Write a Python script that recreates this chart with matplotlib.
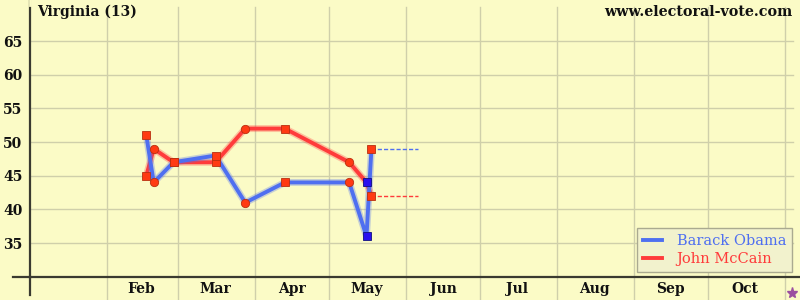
import matplotlib
matplotlib.use("Agg")
import matplotlib.pyplot as plt
from matplotlib.lines import Line2D

# poll dates as day of year 2008 (0 = Jan 1)
poll_days = [47, 50, 58, 75, 87, 103, 129, 136, 138]
obama = [51, 44, 47, 48, 41, 44, 44, 36, 49]
mccain = [45, 49, 47, 47, 52, 52, 47, 44, 42]
markers = ["s", "o", "s", "s", "o", "s", "o", "s", "s"]
marker_colors = ["r", "r", "r", "r", "r", "r", "r", "b", "r"]
extend_to = 157

month_starts = [31, 60, 91, 121, 152, 182, 213, 244, 274, 305]
month_mids = [45, 75, 106, 136, 167, 197, 228, 259, 289]
month_names = ["Feb", "Mar", "Apr", "May", "Jun", "Jul", "Aug", "Sep", "Oct"]
y_ticks = [35, 40, 45, 50, 55, 60, 65]
election_day = 308

bg = "#fbfbc6"
grid_c = "#cfcfaa"
blue = "#4f6ff0"
red = "#ff3b3b"
axis_c = "#3a3a30"
font = "DejaVu Serif"

fig = plt.figure(figsize=(8, 3), dpi=100, facecolor=bg)
ax = fig.add_axes([30 / 800, 23.3 / 300, 770 / 800, 276.7 / 300])
ax.set_facecolor(bg)
ax.set_xlim(0, 311.2)
ax.set_ylim(30, 71.1)

for s in ["top", "right"]:
    ax.spines[s].set_visible(False)
for s in ["left", "bottom"]:
    ax.spines[s].set_color(axis_c)
    ax.spines[s].set_linewidth(1.6)

# grid
for y in y_ticks:
    ax.plot([0, 308.5], [y, y], color=grid_c, lw=1, zorder=1)
for d in month_starts:
    ax.plot([d, d], [26.4, 70.1], color=grid_c, lw=1, zorder=1, clip_on=False)

# axis extensions below/left
fig.add_artist(Line2D([30 / 800, 30 / 800], [5 / 300, 23.3 / 300], color=axis_c, lw=1.6))
fig.add_artist(Line2D([13 / 800, 30 / 800], [23.3 / 300, 23.3 / 300], color=axis_c, lw=1.6))
fig.add_artist(Line2D([30 / 800, 30 / 800], [0.999, 1 - 5 / 300], color=bg, lw=2))

# lines with soft halo
for vals, c in [(mccain, red), (obama, blue)]:
    ax.plot(poll_days, vals, color=c, lw=5, alpha=0.3, zorder=3, solid_joinstyle="round")
    ax.plot(poll_days, vals, color=c, lw=2.8, zorder=3, solid_joinstyle="round")
    ax.plot([poll_days[-1], extend_to], [vals[-1], vals[-1]], color=c, lw=1,
            ls=(0, (3, 1.5)), zorder=3)

# markers
for i, d in enumerate(poll_days):
    if marker_colors[i] == "b":
        fc, ec = "#2a10ee", "#101080"
    else:
        fc, ec = "#ff3a12", "#b83010"
    for vals in (mccain, obama):
        ax.plot(d, vals[i], marker=markers[i], ms=5.2 if markers[i] == "s" else 6,
                mfc=fc, mec=ec, mew=0.6, zorder=5, ls="none")

ax.set_yticks(y_ticks)
ax.set_yticklabels([str(v) for v in y_ticks], fontfamily=font, fontweight="bold", fontsize=10)
ax.set_xticks(month_mids)
ax.set_xticklabels(month_names, fontfamily=font, fontweight="bold", fontsize=10)
ax.tick_params(length=0, pad=4, colors="#111111")
ax.tick_params(axis="y", pad=5.5)

ax.text(0.009, 0.985, "Virginia (13)", transform=ax.transAxes,
        fontfamily=font, fontweight="bold", fontsize=10, va="top", ha="left", color="#111111")
fig.text(0.991, 0.985, "www.electoral-vote.com", fontfamily=font, fontweight="bold",
         fontsize=10.3, va="top", ha="right", color="#111111")

ax.plot(election_day, 27.6, marker="*", ms=8, color="#9b4fa0", clip_on=False, zorder=6)

handles = [Line2D([], [], color=blue, lw=2.8), Line2D([], [], color=red, lw=2.8)]
leg = ax.legend(handles, ["Barack Obama", "John McCain"], loc="lower right",
                bbox_to_anchor=(0.9896, 0.017), borderaxespad=0, prop={"family": font, "size": 10.5},
                handlelength=1.3, handletextpad=1.0, borderpad=0.4, labelspacing=0.3,
                fancybox=False, framealpha=1, facecolor="#f2f2cd", edgecolor="#aaaa90")
leg.get_frame().set_linewidth(1)
for t, c in zip(leg.get_texts(), [blue, red]):
    t.set_color(c)

fig.savefig("out.png", dpi=100, facecolor=bg)
